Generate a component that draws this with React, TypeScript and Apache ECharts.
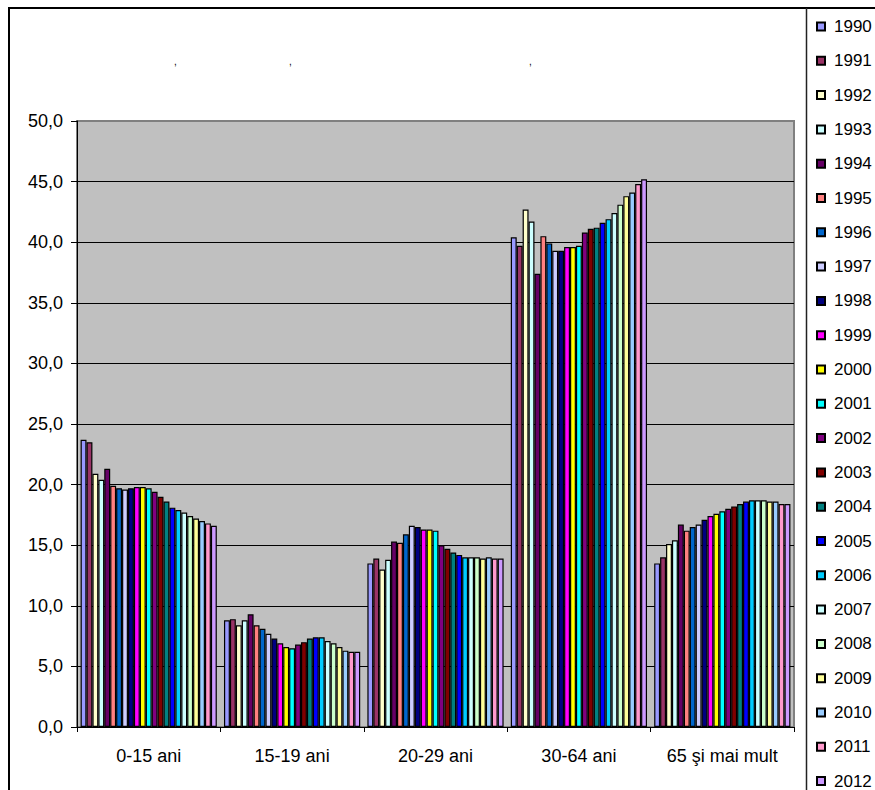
import React, { useEffect, useRef } from "react";
import * as echarts from "echarts";

const categories = ["0-15 ani", "15-19 ani", "20-29 ani", "30-64 ani", "65 şi mai mult"];
const years = ["1990","1991","1992","1993","1994","1995","1996","1997","1998","1999","2000","2001","2002","2003","2004","2005","2006","2007","2008","2009","2010","2011","2012"];
const colors = ["#9999FF","#993366","#FFFFCC","#CCFFFF","#660066","#FF8080","#0066CC","#CCCCFF","#000080","#FF00FF","#FFFF00","#00FFFF","#800080","#800000","#008080","#0000FF","#00CCFF","#CCFFFF","#CCFFCC","#FFFF99","#99CCFF","#FF99CC","#CC99FF"];

const age0_15 = [23.7,23.5,20.9,20.4,21.3,19.9,19.7,19.6,19.7,19.8,19.8,19.7,19.4,19.0,18.6,18.1,17.9,17.7,17.4,17.2,17.0,16.8,16.6];
const age15_19 = [8.8,8.9,8.4,8.8,9.3,8.4,8.1,7.7,7.3,6.9,6.6,6.5,6.8,7.0,7.3,7.4,7.4,7.1,6.9,6.6,6.3,6.2,6.2];
const age20_29 = [13.5,13.9,13.0,13.8,15.3,15.2,15.9,16.6,16.5,16.3,16.3,16.2,15.0,14.7,14.4,14.2,14.0,14.0,14.0,13.9,14.0,13.9,13.9];
const age30_64 = [40.4,39.7,42.7,41.7,37.4,40.5,39.9,39.3,39.3,39.6,39.6,39.7,40.8,41.1,41.2,41.6,41.9,42.4,43.1,43.8,44.1,44.8,45.2];
const age65 = [13.5,14.0,15.1,15.4,16.7,16.2,16.5,16.7,17.1,17.4,17.6,17.8,18.0,18.2,18.4,18.6,18.7,18.7,18.7,18.6,18.6,18.4,18.4];

const yTicks = [0, 5, 10, 15, 20, 25, 30, 35, 40, 45, 50];
const groups = [age0_15, age15_19, age20_29, age30_64, age65];

const FONT = "'Liberation Sans', Arial, sans-serif";

export default function App() {
  const ref = useRef<HTMLDivElement>(null);
  useEffect(() => {
    document.body.style.margin = "0";
    document.body.style.overflow = "hidden";
    const chart = echarts.init(ref.current!, undefined, { renderer: "svg" });
    const series = years.map((y, i) => ({
      name: y,
      type: "bar",
      data: groups.map((g) => g[i]),
      barGap: "0%",
      barCategoryGap: "5%",
      itemStyle: { color: colors[i], borderColor: "#000", borderWidth: 1.2 },
    }));
    chart.setOption({
      animation: false,
      textStyle: { fontFamily: FONT },
      grid: {
        left: 77,
        right: 81,
        top: 121,
        bottom: 63,
        show: true,
        backgroundColor: "#C0C0C0",
        borderColor: "#808080",
        borderWidth: 2,
      },
      legend: {
        orient: "vertical",
        left: 816,
        top: 18,
        padding: 0,
        itemWidth: 8,
        itemHeight: 8,
        itemGap: 17.3,
        icon: "rect",
        textStyle: { fontSize: 17, lineHeight: 17, color: "#000", fontFamily: FONT, padding: [0, 0, 0, 4] },
        data: years,
      },
      xAxis: {
        type: "category",
        data: categories,
        axisLine: { lineStyle: { color: "#000", width: 1 } },
        axisTick: { show: true, length: 5, lineStyle: { color: "#000" } },
        axisLabel: { fontSize: 18, color: "#000", margin: 20, fontFamily: FONT, interval: 0 },
      },
      yAxis: {
        type: "value",
        min: yTicks[0],
        max: yTicks[yTicks.length - 1],
        interval: 5,
        axisLine: { show: true, lineStyle: { color: "#000", width: 1 } },
        axisTick: { show: true, length: 6, lineStyle: { color: "#000" } },
        splitLine: { show: true, showMaxLine: false, lineStyle: { color: "#000", width: 1 } },
        axisLabel: {
          fontSize: 18,
          color: "#000",
          margin: 14,
          fontFamily: FONT,
          formatter: (v: number) => v.toFixed(1).replace(".", ","),
        },
      },
      graphic: [
        { type: "rect", shape: { x: 9, y: 8, width: 1000, height: 1000 }, style: { fill: "none", stroke: "#000", lineWidth: 2 }, silent: true, z: 100 },
        { type: "line", shape: { x1: 806.5, y1: 8, x2: 806.5, y2: 800 }, style: { stroke: "#222", lineWidth: 1.5 }, silent: true, z: 100 },
        { type: "text", x: 174, y: 56, style: { text: ",", fontSize: 10, fill: "#000", fontFamily: FONT } },
        { type: "text", x: 289, y: 56, style: { text: ",", fontSize: 10, fill: "#000", fontFamily: FONT } },
        { type: "text", x: 529, y: 56, style: { text: ",", fontSize: 10, fill: "#000", fontFamily: FONT } },
      ],
      series,
    });
    return () => chart.dispose();
  }, []);
  return <div ref={ref} style={{ width: 875, height: 790 }} />;
}
